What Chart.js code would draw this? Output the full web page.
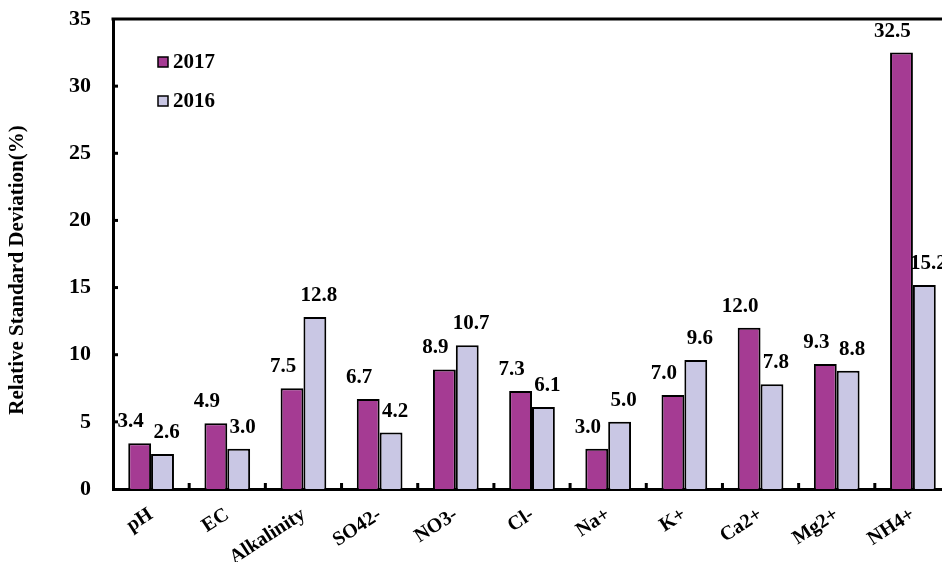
<!DOCTYPE html>
<html>
<head>
<meta charset="utf-8">
<title>Relative Standard Deviation</title>
<script src="https://cdn.jsdelivr.net/npm/chart.js@4"></script>
<style>
  html, body { margin: 0; padding: 0; background: #fff; overflow: hidden; }
  #wrap { position: relative; width: 954px; height: 562px; }
</style>
</head>
<body>
<div id="wrap"><canvas id="myChart"></canvas></div>
<script>
const labels = ['pH', 'EC', 'Alkalinity', 'SO42-', 'NO3-', 'Cl-', 'Na+', 'K+', 'Ca2+', 'Mg2+', 'NH4+'];
const rsd2017 = [3.4, 4.9, 7.5, 6.7, 8.9, 7.3, 3.0, 7.0, 12.0, 9.3, 32.5];
const rsd2016 = [2.6, 3.0, 12.8, 4.2, 10.7, 6.1, 5.0, 9.6, 7.8, 8.8, 15.2];
const yTicks = [0, 5, 10, 15, 20, 25, 30, 35];

const ctx = document.getElementById('myChart');
const serif = '"Liberation Serif", "Times New Roman", serif';

// frame on top, inner tick marks, legend, y title and value labels
const decor = {
  id: 'decor',
  afterDatasetsDraw(chart) {
    const c = chart.ctx;
    const area = chart.chartArea;
    const x = chart.scales.x;
    const y = chart.scales.y;
    c.save();
    c.fillStyle = '#000';

    // top frame line
    c.fillRect(area.left - 1.5, area.top - 1.5, area.right - area.left + 3, 3);

    // y tick marks pointing inward
    yTicks.forEach(v => {
      if (v === 0 || v === 35) return;
      c.fillRect(area.left, y.getPixelForValue(v) - 1.5, 5, 3);
    });

    // x tick marks between categories
    for (let i = 0; i < labels.length - 1; i++) {
      const px = (x.getPixelForValue(i) + x.getPixelForValue(i + 1)) / 2;
      c.fillRect(px - 1.5, area.bottom - 6, 3, 6);
    }

    // value labels
    c.font = 'bold 21px ' + serif;
    c.textAlign = 'center';
    c.textBaseline = 'alphabetic';
    const shift = [-9, 4];
    chart.data.datasets.forEach((ds, di) => {
      chart.getDatasetMeta(di).data.forEach((bar, i) => {
        c.fillText(ds.data[i].toFixed(1), bar.x + shift[di], bar.y - 16);
      });
    });

    // legend inside the plot
    c.font = 'bold 21px ' + serif;
    c.textAlign = 'left';
    c.textBaseline = 'middle';
    chart.data.datasets.forEach((ds, di) => {
      const ly = area.top + 43 + di * 39;
      const lx = area.left + 45;
      c.fillStyle = ds.backgroundColor;
      c.fillRect(lx, ly - 5, 10, 10);
      c.strokeStyle = '#000';
      c.lineWidth = 1.5;
      c.strokeRect(lx, ly - 5, 10, 10);
      c.fillStyle = '#000';
      c.fillText(ds.label, lx + 15, ly + 1);
    });

    // y axis title
    c.save();
    c.translate(18, (area.top + area.bottom) / 2 + 16);
    c.rotate(-Math.PI / 2);
    c.textAlign = 'center';
    c.font = 'bold 21px ' + serif;
    c.fillText('Relative Standard Deviation(%)', 0, 0);
    c.restore();

    c.restore();
  }
};

new Chart(ctx, {
  type: 'bar',
  data: {
    labels: labels,
    datasets: [{
      label: '2017',
      data: rsd2017,
      backgroundColor: '#a53b93',
      borderColor: '#000',
      borderWidth: 2,
      borderSkipped: 'bottom'
    }, {
      label: '2016',
      data: rsd2016,
      backgroundColor: '#c9c7e4',
      borderColor: '#000',
      borderWidth: 2,
      borderSkipped: 'bottom'
    }]
  },
  options: {
    responsive: true,
    maintainAspectRatio: false,
    animation: false,
    layout: { padding: { top: 19, right: 3, left: 0, bottom: 0 } },
    datasets: {
      bar: { barPercentage: 1.0, categoryPercentage: 0.6 }
    },
    plugins: {
      legend: { display: false },
      tooltip: { enabled: false }
    },
    scales: {
      x: {
        grid: { display: false, drawTicks: false },
        border: { display: true, color: '#000', width: 3 },
        ticks: {
          color: '#000',
          font: { family: serif, size: 20, weight: 'bold' },
          minRotation: 33,
          maxRotation: 33,
          padding: 14
        },
        afterFit(scale) { scale.height = 73; }
      },
      y: {
        min: 0,
        max: 35,
        grid: { display: false, drawTicks: false },
        border: { display: true, color: '#000', width: 3 },
        ticks: {
          stepSize: 5,
          color: '#000',
          padding: 22,
          font: { family: serif, size: 22, weight: 'bold' }
        },
        afterFit(scale) {
          scale.width = 113;
          scale.paddingTop = 0;
          scale.paddingBottom = 0;
        }
      }
    }
  },
  plugins: [decor]
});
</script>
</body>
</html>
